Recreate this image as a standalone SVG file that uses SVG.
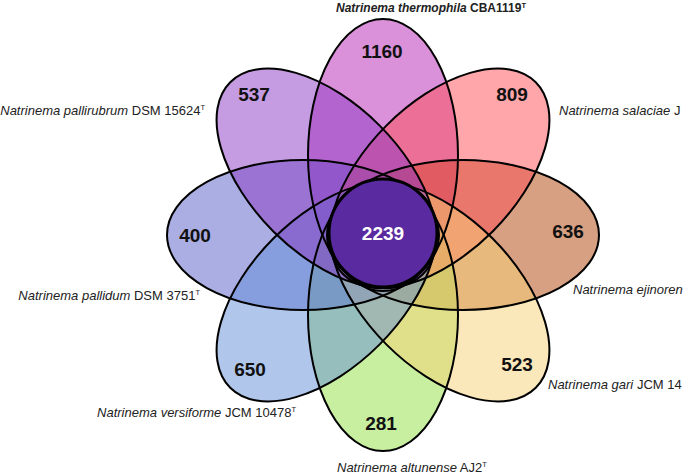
<svg xmlns="http://www.w3.org/2000/svg" xmlns:xlink="http://www.w3.org/1999/xlink" width="685" height="476" viewBox="0 0 685 476">
<style>
.set{fill-opacity:0.5;stroke:none}
.outline{fill:none;stroke:#000;stroke-width:2}
.count{font-family:"Liberation Sans",Arial,sans-serif;font-weight:bold;font-size:19px;text-anchor:middle;fill:#111}
.name{font-family:"Liberation Sans",Arial,sans-serif;font-size:13px;fill:#222}
.sp{font-style:italic}
.sup{font-size:7.5px}
</style>
<defs>
<ellipse id="e-top" cx="383" cy="155" rx="75" ry="136"/>
<ellipse id="e-right" cx="463" cy="235" rx="136" ry="75"/>
<ellipse id="e-bottom" cx="383" cy="315" rx="75" ry="136"/>
<ellipse id="e-left" cx="303" cy="235" rx="136" ry="75"/>
<ellipse id="e-ur" cx="439.6" cy="178.4" rx="136" ry="75" transform="rotate(-45 439.6 178.4)"/>
<ellipse id="e-lr" cx="439.6" cy="291.6" rx="136" ry="75" transform="rotate(45 439.6 291.6)"/>
<ellipse id="e-ll" cx="326.4" cy="291.6" rx="136" ry="75" transform="rotate(-45 326.4 291.6)"/>
<ellipse id="e-ul" cx="326.4" cy="178.4" rx="136" ry="75" transform="rotate(45 326.4 178.4)"/>
</defs>
<rect width="685" height="476" fill="#fff"/>
<g id="set-thermophila"><use xlink:href="#e-top" class="set" fill="#b523b5"/></g>
<g id="set-ejinoren"><use xlink:href="#e-right" class="set" fill="#af4105"/></g>
<g id="set-altunense"><use xlink:href="#e-bottom" class="set" fill="#91dd41"/></g>
<g id="set-pallidum"><use xlink:href="#e-left" class="set" fill="#555dc5"/></g>
<g id="set-salaciae"><use xlink:href="#e-ur" class="set" fill="#fd4d55"/></g>
<g id="set-gari"><use xlink:href="#e-lr" class="set" fill="#f7d175"/></g>
<g id="set-versiforme"><use xlink:href="#e-ll" class="set" fill="#618dd7"/></g>
<g id="set-pallirubrum"><use xlink:href="#e-ul" class="set" fill="#8b37c3"/></g>
<g id="outlines">
<use xlink:href="#e-top" class="outline"/>
<use xlink:href="#e-right" class="outline"/>
<use xlink:href="#e-bottom" class="outline"/>
<use xlink:href="#e-left" class="outline"/>
<use xlink:href="#e-ur" class="outline"/>
<use xlink:href="#e-lr" class="outline"/>
<use xlink:href="#e-ll" class="outline"/>
<use xlink:href="#e-ul" class="outline"/>
</g>
<g id="core">
<circle cx="383" cy="233" r="54" fill="#5a2aa0" stroke="#000" stroke-width="3"/>
<text x="383" y="240" class="count" fill="#fff" style="fill:#fff">2239</text>
</g>
<g id="counts">
<text x="382" y="58" class="count">1160</text>
<text x="254" y="101" class="count">537</text>
<text x="512" y="101" class="count">809</text>
<text x="195" y="242" class="count">400</text>
<text x="568" y="238" class="count">636</text>
<text x="250" y="376" class="count">650</text>
<text x="517" y="371" class="count">523</text>
<text x="381" y="430" class="count">281</text>
</g>
<g id="labels">
<text x="336" y="12" class="name" style="font-size:12px;font-weight:bold"><tspan class="sp">Natrinema thermophila</tspan> CBA1119<tspan class="sup" dy="-4.5">T</tspan></text>
<text x="205" y="115" class="name" text-anchor="end"><tspan class="sp">Natrinema pallirubrum</tspan> DSM 15624<tspan class="sup" dy="-5">T</tspan></text>
<text x="559" y="115" class="name"><tspan class="sp">Natrinema salaciae</tspan> J</text>
<text x="200" y="300" class="name" text-anchor="end"><tspan class="sp">Natrinema pallidum</tspan> DSM 3751<tspan class="sup" dy="-5">T</tspan></text>
<text x="573" y="294" class="name"><tspan class="sp">Natrinema ejinoren</tspan></text>
<text x="296" y="417" class="name" text-anchor="end"><tspan class="sp">Natrinema versiforme</tspan> JCM 10478<tspan class="sup" dy="-5">T</tspan></text>
<text x="548" y="389" class="name"><tspan class="sp">Natrinema gari</tspan> JCM 14</text>
<text x="337" y="472" class="name"><tspan class="sp">Natrinema altunense</tspan> AJ2<tspan class="sup" dy="-5">T</tspan></text>
</g>
</svg>
